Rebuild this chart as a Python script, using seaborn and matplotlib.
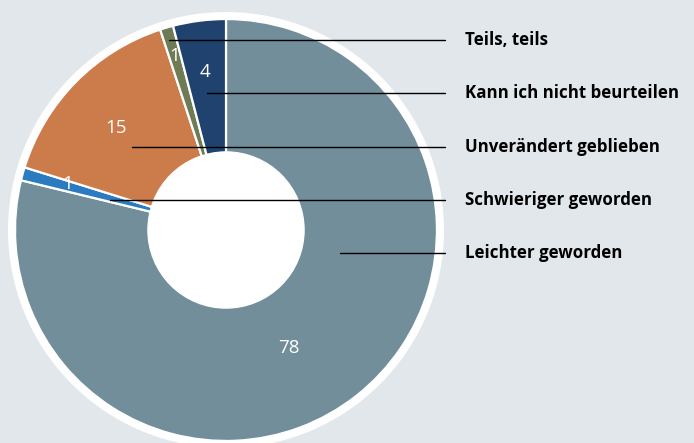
import matplotlib
matplotlib.use("Agg")
import matplotlib.pyplot as plt
import seaborn as sns

# data (pie order, clockwise from 12 o'clock)
categories = ["Leichter geworden", "Schwieriger geworden", "Unverändert geblieben",
              "Teils, teils", "Kann ich nicht beurteilen"]
values = [78, 1, 15, 1, 4]
colors = ["#728e9b", "#2b7bc0", "#cc7b4b", "#6f7b55", "#1f426e"]

# labels listed top to bottom on the right
label_order = ["Teils, teils", "Kann ich nicht beurteilen", "Unverändert geblieben",
               "Schwieriger geworden", "Leichter geworden"]

# layout: where each leader line starts inside its slice and where the value sits
leader_x = {"Teils, teils": -0.27, "Kann ich nicht beurteilen": -0.09,
            "Unverändert geblieben": -0.445, "Schwieriger geworden": -0.55,
            "Leichter geworden": 0.54}
value_pos = {"Leichter geworden": (0.30, -0.56), "Schwieriger geworden": (-0.75, 0.22),
             "Unverändert geblieben": (-0.52, 0.485), "Teils, teils": (-0.245, 0.825),
             "Kann ich nicht beurteilen": (-0.10, 0.75)}

sns.set_style("white")
bg = "#e1e7eb"
fig = plt.figure(figsize=(6.94, 4.43), dpi=100, facecolor=bg)
ax = fig.add_axes([4.5 / 694, -8.5 / 443, 443 / 694, 443 / 443])
ax.set_facecolor("none")

# white outer ring behind the pie
ax.add_patch(plt.Circle((0, 0), 1.03, color="white", zorder=0))
ax.pie(values, colors=colors, startangle=90, counterclock=False, radius=1.0,
       wedgeprops=dict(edgecolor="white", linewidth=1.6))
ax.add_patch(plt.Circle((0, 0), 0.37, color="white", zorder=3))

for cat, val in zip(categories, values):
    x, y = value_pos[cat]
    ax.text(x, y, str(val), color="white", fontsize=13.5, ha="center", va="center",
            family="Open Sans", zorder=4)

y0, step = 0.900, 0.2525
for i, cat in enumerate(label_order):
    y = y0 - i * step
    ax.plot([leader_x[cat], 1.038], [y, y], color="black", lw=1.0, clip_on=False, zorder=5)
    ax.text(1.133, y, cat, fontsize=12.2, fontweight="bold", family="Open Sans",
            ha="left", va="center", color="black")

ax.set_xlim(-1.05, 1.05)
ax.set_ylim(-1.05, 1.05)
ax.set_aspect("equal")
ax.axis("off")

fig.savefig("out.png", dpi=100, facecolor=bg)
